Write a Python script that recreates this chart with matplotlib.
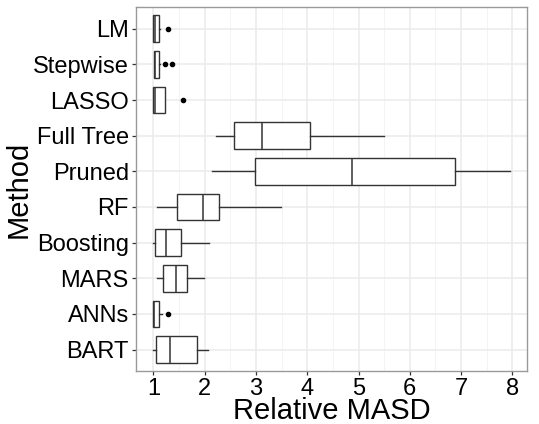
import matplotlib
matplotlib.use("Agg")
import matplotlib.pyplot as plt
from matplotlib.ticker import MultipleLocator

methods = ["LM", "Stepwise", "LASSO", "Full Tree", "Pruned", "RF", "Boosting", "MARS", "ANNs", "BART"]
whislo = [1.00, 1.01, 1.00, 2.22, 2.14, 1.08, 1.00, 1.07, 1.00, 1.00]
q1     = [1.00, 1.01, 1.00, 2.58, 2.98, 1.47, 1.04, 1.19, 1.00, 1.05]
med    = [1.04, 1.03, 1.04, 3.12, 4.87, 1.96, 1.24, 1.44, 1.02, 1.32]
q3     = [1.105, 1.105, 1.23, 4.06, 6.89, 2.29, 1.53, 1.65, 1.11, 1.86]
whishi = [1.14, 1.13, 1.23, 5.50, 7.95, 3.48, 2.08, 1.98, 1.16, 2.06]
fliers = [[1.29], [1.22, 1.36], [1.57], [], [], [], [], [], [1.29], []]

plt.rcParams['font.family'] = ['Liberation Sans', 'DejaVu Sans']

fig = plt.figure(figsize=(5.39, 4.24), dpi=100)
ax = fig.add_axes([0.2518, 0.125, 0.9783 - 0.2518, 0.9828 - 0.125])

stats = []
for i, m in enumerate(methods):
    stats.append(dict(label=m, whislo=whislo[i], q1=q1[i], med=med[i], q3=q3[i],
                      whishi=whishi[i], fliers=fliers[i]))

positions = list(range(1, len(methods) + 1))
lc = "#333333"
ax.bxp(stats, positions=positions, vert=False, widths=0.75, showcaps=False,
       patch_artist=True,
       boxprops=dict(facecolor="white", edgecolor=lc, linewidth=1.0),
       medianprops=dict(color=lc, linewidth=1.1),
       whiskerprops=dict(color=lc, linewidth=1.0),
       flierprops=dict(marker="o", markersize=3, markerfacecolor="black",
                       markeredgecolor="black", linestyle="none"),
       zorder=3)

ax.set_xlim(0.657, 8.29)
ax.set_ylim(10.6, 0.4)
ax.set_yticks(positions)
ax.set_yticklabels(methods)
ax.xaxis.set_major_locator(MultipleLocator(1))
ax.xaxis.set_minor_locator(MultipleLocator(0.5))
ax.set_xticks([1, 2, 3, 4, 5, 6, 7, 8])

ax.grid(True, which="major", color="#EBEBEB", linewidth=1.1, zorder=0)
ax.grid(True, which="minor", axis="x", color="#F2F2F2", linewidth=0.6, zorder=0)
ax.set_axisbelow(True)

for s in ax.spines.values():
    s.set_color("#9A9A9A")
    s.set_linewidth(1.0)

ax.tick_params(axis="both", which="major", length=3, width=0.9, color="#333333",
               labelsize=17, labelcolor="black", pad=2)
ax.tick_params(axis="x", which="minor", length=0)

ax.set_xlabel("Relative MASD", fontsize=21, labelpad=-2)
ax.set_ylabel("Method", fontsize=21, labelpad=0)

fig.savefig("out.png", dpi=100)
